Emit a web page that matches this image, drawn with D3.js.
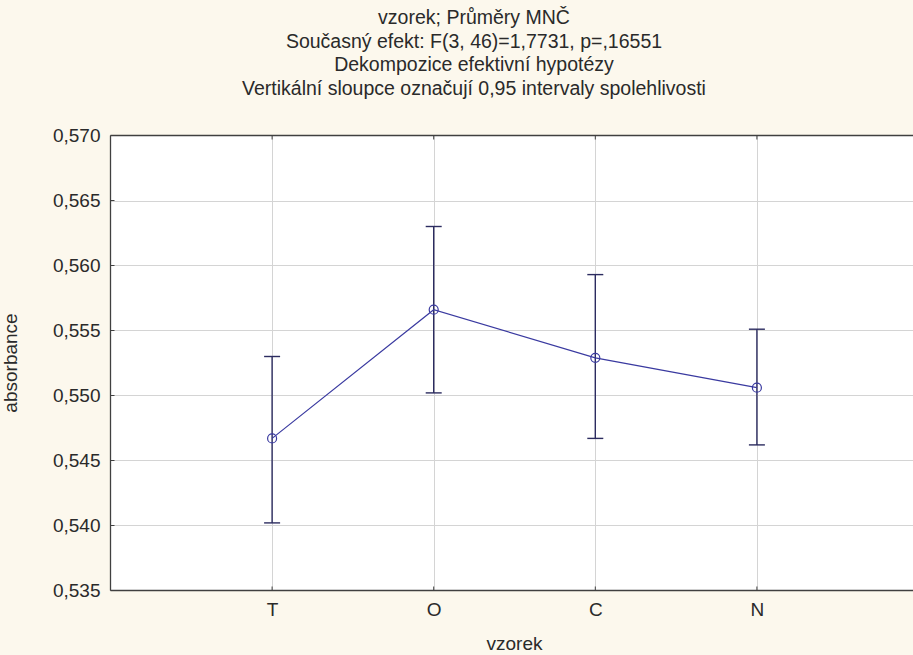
<!DOCTYPE html>
<html>
<head>
<meta charset="utf-8">
<script src="https://cdn.jsdelivr.net/npm/d3@7"></script>
<style>
 body { margin: 0; background: #fcf8ed; }
 text { font-family: "Liberation Sans", Arial, sans-serif; fill: #2a2a2a; }
</style>
</head>
<body>
<script>
 // data
 var categories = ["T", "O", "C", "N"];
 var means = [0.5467, 0.5566, 0.5529, 0.5506];
 var lowCI = [0.5402, 0.5502, 0.5467, 0.5462];
 var highCI = [0.5530, 0.5630, 0.5593, 0.5551];
 var yTicks = [0.535, 0.540, 0.545, 0.550, 0.555, 0.560, 0.565, 0.570];
 var titleLines = [
   "vzorek; Průměry MNČ",
   "Současný efekt: F(3, 46)=1,7731, p=,16551",
   "Dekompozice efektivní hypotézy",
   "Vertikální sloupce označují 0,95 intervaly spolehlivosti"
 ];

 var W = 913, H = 655;
 // plot box (right side runs past the window edge, like the reference)
 var pLeft = 110.5, pTop = 135.5, pBottom = 590.5, pRight = 918.5;

 var svg = d3.select("body").append("svg")
   .attr("width", W)
   .attr("height", H)
   .style("display", "block");

 svg.append("rect").attr("width", W).attr("height", H).attr("fill", "#fcf8ed");

 var x = d3.scaleLinear().domain([0, 5]).range([pLeft, pRight]);
 var y = d3.scaleLinear().domain([0.535, 0.570]).range([pBottom, pTop]);

 // plot area
 svg.append("rect")
   .attr("x", pLeft).attr("y", pTop)
   .attr("width", pRight - pLeft).attr("height", pBottom - pTop)
   .attr("fill", "#ffffff");

 // grid
 svg.selectAll(".hgrid").data(yTicks.slice(1, -1)).enter().append("line")
   .attr("x1", pLeft).attr("x2", pRight)
   .attr("y1", function(d){ return Math.round(y(d)) + 0.5; })
   .attr("y2", function(d){ return Math.round(y(d)) + 0.5; })
   .attr("stroke", "#d4d4d4");

 svg.selectAll(".vgrid").data(categories).enter().append("line")
   .attr("x1", function(d, i){ return Math.round(x(i + 1)) + 0.5; })
   .attr("x2", function(d, i){ return Math.round(x(i + 1)) + 0.5; })
   .attr("y1", pTop).attr("y2", pBottom)
   .attr("stroke", "#d4d4d4");

 // axes frame
 var frame = svg.append("g").attr("stroke", "#404040").attr("stroke-width", 1.3);
 frame.append("line").attr("x1", pLeft).attr("x2", pLeft).attr("y1", pTop).attr("y2", pBottom);
 frame.append("line").attr("x1", pLeft).attr("x2", pRight).attr("y1", pBottom).attr("y2", pBottom);
 frame.append("line").attr("x1", pLeft).attr("x2", pRight).attr("y1", pTop).attr("y2", pTop);

 // y axis labels
 var yAxis = d3.axisLeft(y).tickValues(yTicks).tickSize(0).tickPadding(10)
   .tickFormat(function(d){ return d3.format(".3f")(d).replace(".", ","); });
 var gy = svg.append("g").attr("transform", "translate(" + pLeft + ",0)").call(yAxis);
 gy.select(".domain").remove();
 gy.selectAll("text").style("font-size", "19px").attr("fill", "#2a2a2a");

 // small inner ticks on y axis
 svg.selectAll(".ytk").data(yTicks).enter().append("line")
   .attr("x1", pLeft).attr("x2", pLeft + 4)
   .attr("y1", function(d){ return y(d); }).attr("y2", function(d){ return y(d); })
   .attr("stroke", "#404040");

 // x axis labels
 var xAxis = d3.axisBottom(x).tickValues([1, 2, 3, 4]).tickSize(0).tickPadding(12)
   .tickFormat(function(d){ return categories[d - 1]; });
 var gx = svg.append("g").attr("transform", "translate(0," + pBottom + ")").call(xAxis);
 gx.select(".domain").remove();
 gx.selectAll("text").style("font-size", "19px").attr("fill", "#2a2a2a");

 svg.selectAll(".xtk").data(categories).enter().append("line")
   .attr("x1", function(d, i){ return x(i + 1); }).attr("x2", function(d, i){ return x(i + 1); })
   .attr("y1", pBottom).attr("y2", pBottom - 4)
   .attr("stroke", "#404040");
 svg.selectAll(".xtk2").data(categories).enter().append("line")
   .attr("x1", function(d, i){ return x(i + 1); }).attr("x2", function(d, i){ return x(i + 1); })
   .attr("y1", pTop).attr("y2", pTop + 4)
   .attr("stroke", "#404040");

 // axis titles
 svg.append("text")
   .attr("x", (pLeft + pRight) / 2).attr("y", 650)
   .attr("text-anchor", "middle")
   .style("font-size", "19px")
   .text("vzorek");

 svg.append("text")
   .attr("transform", "translate(17," + ((pTop + pBottom) / 2) + ") rotate(-90)")
   .attr("text-anchor", "middle")
   .style("font-size", "19px")
   .text("absorbance");

 // titles
 svg.selectAll(".title").data(titleLines).enter().append("text")
   .attr("x", 474)
   .attr("y", function(d, i){ return 24 + i * 23.5; })
   .attr("text-anchor", "middle")
   .style("font-size", "19.5px")
   .text(function(d){ return d; });

 // error bars
 var bars = svg.append("g").attr("stroke", "#2c2c60").attr("stroke-width", 1.4);
 categories.forEach(function(c, i){
   var cx = x(i + 1);
   bars.append("line").attr("x1", cx).attr("x2", cx).attr("y1", y(lowCI[i])).attr("y2", y(highCI[i]));
   bars.append("line").attr("x1", cx - 8).attr("x2", cx + 8).attr("y1", y(lowCI[i])).attr("y2", y(lowCI[i]));
   bars.append("line").attr("x1", cx - 8).attr("x2", cx + 8).attr("y1", y(highCI[i])).attr("y2", y(highCI[i]));
 });

 // mean line
 var line = d3.line()
   .x(function(d, i){ return x(i + 1); })
   .y(function(d){ return y(d); });
 svg.append("path").datum(means)
   .attr("d", line)
   .attr("fill", "none")
   .attr("stroke", "#3a3aa0")
   .attr("stroke-width", 1.2);

 svg.selectAll(".pt").data(means).enter().append("circle")
   .attr("cx", function(d, i){ return x(i + 1); })
   .attr("cy", function(d){ return y(d); })
   .attr("r", 4.5)
   .attr("fill", "none")
   .attr("stroke", "#3a3aa0")
   .attr("stroke-width", 1.2);
</script>
</body>
</html>
